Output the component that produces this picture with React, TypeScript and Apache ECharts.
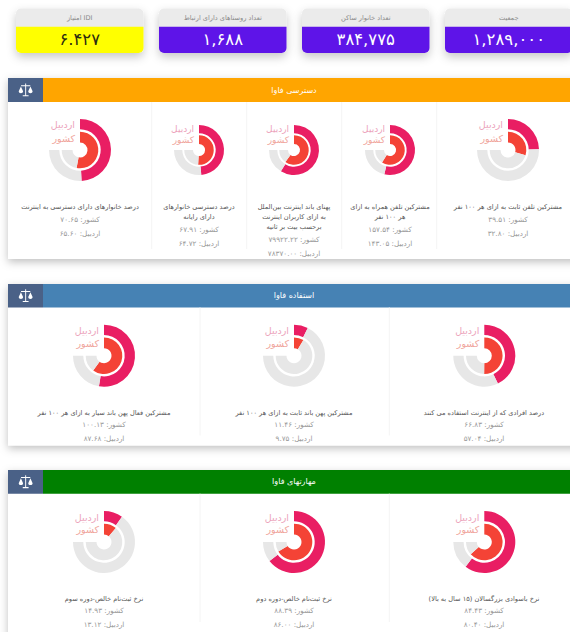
import React, { useEffect, useRef } from "react";
import * as echarts from "echarts";

// ---------- data ----------
const kpiTitles = ["امتیاز IDI", "تعداد روستاهای دارای ارتباط", "تعداد خانوار ساکن", "جمعیت"];
const kpiValues = ["۶.۴۲۷", "۱,۶۸۸", "۳۸۴,۷۷۵", "۱,۲۸۹,۰۰۰"];

const sectionTitles = ["دسترسی فاوا", "استفاده فاوا", "مهارتهای فاوا"];

const accessTitles = [
  ["درصد خانوارهای دارای دسترسی به اینترنت"],
  ["درصد دسترسی خانوارهای", "دارای رایانه"],
  ["پهنای باند اینترنت بین‌الملل", "به ازای کاربران اینترنت", "برحسب بیت بر ثانیه"],
  ["مشترکین تلفن همراه به ازای", "هر ۱۰۰ نفر"],
  ["مشترکین تلفن ثابت به ازای هر ۱۰۰ نفر"],
];
const accessCountry = [70.65, 67.91, 79922.22, 157.54, 39.51];
const accessArdabil = [65.6, 64.72, 78370.0, 143.05, 32.8];
const accessMax = [100, 100, 100000, 200, 100];

const usageTitles = [
  ["مشترکین فعال پهن باند سیار به ازای هر ۱۰۰ نفر"],
  ["مشترکین پهن باند ثابت به ازای هر ۱۰۰ نفر"],
  ["درصد افرادی که از اینترنت استفاده می کنند"],
];
const usageCountry = [100.13, 11.46, 66.83];
const usageArdabil = [87.68, 9.75, 57.04];
const usageMax = [125, 100, 100];

const skillTitles = [
  ["نرخ ثبت‌نام خالص-دوره سوم"],
  ["نرخ ثبت‌نام خالص-دوره دوم"],
  ["نرخ باسوادی بزرگسالان (۱۵ سال به بالا)"],
];
const skillCountry = [14.93, 88.39, 84.43];
const skillArdabil = [13.12, 86.0, 80.4];
const skillMax = [100, 100, 100];

const nameArdabil = "اردبیل";
const nameCountry = "کشور";

// ---------- layout / style ----------
const FONT = "'DejaVu Sans', 'Noto Sans', sans-serif";
const W = 570;
const H = 632;
const PINK = "#e91e63";
const RED = "#f44336";
const GRAY = "#e7e7e7";

const kpiX = [16, 159, 302, 445];
const kpiFill = ["#ffff00", "#5e14e8", "#5e14e8", "#5e14e8"];
const kpiInk = ["#2b2b10", "#ffffff", "#ffffff", "#ffffff"];

type Sec = {
  color: string;
  top: number;
  bottom: number;
  bandH: number;
  dividers: number[];
  cellX: number[];
  cx: number[];
  cy: number;
  R: number[];
  labelDy: number[][];
  titleY: number;
  titleStep: number;
  gapCountry: number;
  gapArdabil: number;
};

const sections: Sec[] = [
  {
    color: "#ffa500", top: 78, bottom: 259, bandH: 24,
    dividers: [151.7, 246.7, 341.7, 436.7],
    cellX: [80, 199, 294, 390, 508],
    cx: [80, 199, 294, 390, 508], cy: 150, R: [31, 25, 25, 25, 31],
    labelDy: [[-26, -12], [-21, -10], [-21, -10], [-21, -10], [-26, -12]],
    titleY: 207, titleStep: 10, gapCountry: 12, gapArdabil: 14,
  },
  {
    color: "#4682b4", top: 284, bottom: 445.5, bandH: 23.5,
    dividers: [200, 389.3],
    cellX: [104, 294, 484], cx: [104, 294, 484.3], cy: 355.7, R: [31, 31, 31],
    labelDy: [[-25.5, -12.5], [-25.5, -12.5], [-25.5, -12.5]],
    titleY: 412.7, titleStep: 10, gapCountry: 12, gapArdabil: 14,
  },
  {
    color: "#008000", top: 470, bottom: 660, bandH: 23.7,
    dividers: [200, 389.3],
    cellX: [104, 294, 484], cx: [104, 294, 484.3], cy: 542, R: [31, 31, 31],
    labelDy: [[-25, -13], [-25, -13], [-25, -13]],
    titleY: 598.7, titleStep: 10, gapCountry: 12, gapArdabil: 14,
  },
];

const sectionData = [
  { titles: accessTitles, country: accessCountry, ardabil: accessArdabil, max: accessMax },
  { titles: usageTitles, country: usageCountry, ardabil: usageArdabil, max: usageMax },
  { titles: skillTitles, country: skillCountry, ardabil: skillArdabil, max: skillMax },
];

const SCALE_ICON =
  "M11.3 0h1.4v2.2h6.1v1.1h-6.1v11.4h3.6v1.3H7.7v-1.3h3.6V3.3H5.2V2.2h6.1z" +
  "M5 3.6l3.2 6.2c0 1.5-1.4 2.4-3.2 2.4S1.8 11.3 1.8 9.8z" +
  "M19 3.6l3.2 6.2c0 1.5-1.4 2.4-3.2 2.4s-3.2-.9-3.2-2.4z";
echarts.graphic.registerShape("scaleIcon", echarts.graphic.extendPath(SCALE_ICON, {}) as any);

const toFa = (n: number) =>
  n.toFixed(2).replace(/\d/g, (d) => "۰۱۲۳۴۵۶۷۸۹"[Number(d)]);

function txt(text: string, x: number, y: number, fontSize: number, fill: string, align = "center", fontWeight: any = "normal", z = 10) {
  return {
    type: "text", z, silent: true,
    style: { text, x, y, fontSize, fill, align, verticalAlign: "middle", fontFamily: FONT, fontWeight },
  };
}

function buildOption() {
  const g: any[] = [];
  const series: any[] = [];

  kpiX.forEach((x, i) => {
    const w = 127.5;
    g.push({ type: "rect", z: 1, silent: true, shape: { x, y: 8.5, width: w, height: 44.5, r: 5 },
      style: { fill: "#ebebeb", shadowBlur: 10, shadowOffsetY: 4, shadowColor: "rgba(0,0,0,0.22)" } });
    g.push({ type: "rect", z: 2, silent: true, shape: { x, y: 26.7, width: w, height: 26.3, r: [0, 0, 5, 5] }, style: { fill: kpiFill[i] } });
    g.push(txt(kpiTitles[i], x + w / 2, 17.5, 6.6, "#8a8a8a"));
    g.push(txt(kpiValues[i], x + w / 2, 39.5, 16.5, kpiInk[i]));
  });

  sections.forEach((s, si) => {
    const d = sectionData[si];
    g.push({ type: "rect", z: 1, silent: true, shape: { x: 8, y: s.top, width: W - 8 + 20, height: s.bottom - s.top },
      style: { fill: "#ffffff", shadowBlur: 9, shadowOffsetY: 3, shadowColor: "rgba(0,0,0,0.25)" } });
    g.push({ type: "rect", z: 2, silent: true, shape: { x: 43, y: s.top, width: W - 43, height: s.bandH }, style: { fill: s.color } });
    g.push({ type: "rect", z: 2, silent: true, shape: { x: 8, y: s.top, width: 35, height: s.bandH }, style: { fill: "#4a6187" } });
    g.push({ type: "scaleIcon", z: 3, silent: true, x: 17.5, y: s.top + s.bandH / 2 - 6.5, scaleX: 0.68, scaleY: 0.8, style: { fill: "#ffffff" } });
    g.push(txt(sectionTitles[si], 294, s.top + s.bandH / 2, 8, "#ffffff"));
    s.dividers.forEach((x) => {
      g.push({ type: "line", z: 2, silent: true, shape: { x1: x, y1: s.top + s.bandH, x2: x, y2: Math.min(s.bottom, H) - 10 }, style: { stroke: "#f4f4f4", lineWidth: 1 } });
    });

    d.titles.forEach((lines, i) => {
      const cx = s.cx[i];
      const R = s.R[i];
      const k = R / 31;
      const rings = [
        { v: d.ardabil[i], color: PINK, r: [20.7 * k, 31 * k] },
        { v: d.country[i], color: RED, r: [7.5 * k, 18.3 * k] },
      ];
      rings.forEach((ring) => {
        const max = d.max[i];
        series.push({
          type: "pie", silent: true, animation: false, clockwise: true, startAngle: 90,
          center: [cx, s.cy], radius: ring.r, label: { show: false }, labelLine: { show: false },
          data: [
            { value: ring.v, itemStyle: { color: ring.color } },
            { value: max - ring.v, itemStyle: { color: GRAY } },
            { value: max / 3, itemStyle: { color: "transparent" } },
          ],
        });
      });
      const lx = cx - 5;
      const fs = R === 31 ? 9.5 : 9;
      g.push(txt(nameArdabil, lx, s.cy + s.labelDy[i][0], fs, "#eca3bb", "right"));
      g.push(txt(nameCountry, lx, s.cy + s.labelDy[i][1], fs, "#f0a59c", "right"));

      let y = s.titleY;
      lines.forEach((line, li) => {
        g.push(txt(line, s.cellX[i], y, 6.6, "#555555"));
        if (li < lines.length - 1) y += s.titleStep;
      });
      y += s.gapCountry;
      g.push(txt(nameCountry + ": " + toFa(d.country[i]), s.cellX[i], y, 7.2, "#999999"));
      y += s.gapArdabil;
      g.push(txt(nameArdabil + ": " + toFa(d.ardabil[i]), s.cellX[i], y, 7.2, "#999999"));
    });
  });

  return { animation: false, backgroundColor: "#ffffff", graphic: { elements: g }, series };
}

export default function App() {
  const ref = useRef<HTMLDivElement>(null);
  useEffect(() => {
    document.body.style.margin = "0";
    document.body.style.overflow = "hidden";
    const chart = echarts.init(ref.current!, undefined, { renderer: "svg" });
    chart.setOption(buildOption() as any);
    return () => chart.dispose();
  }, []);
  return <div ref={ref} style={{ width: W, height: H }} />;
}
